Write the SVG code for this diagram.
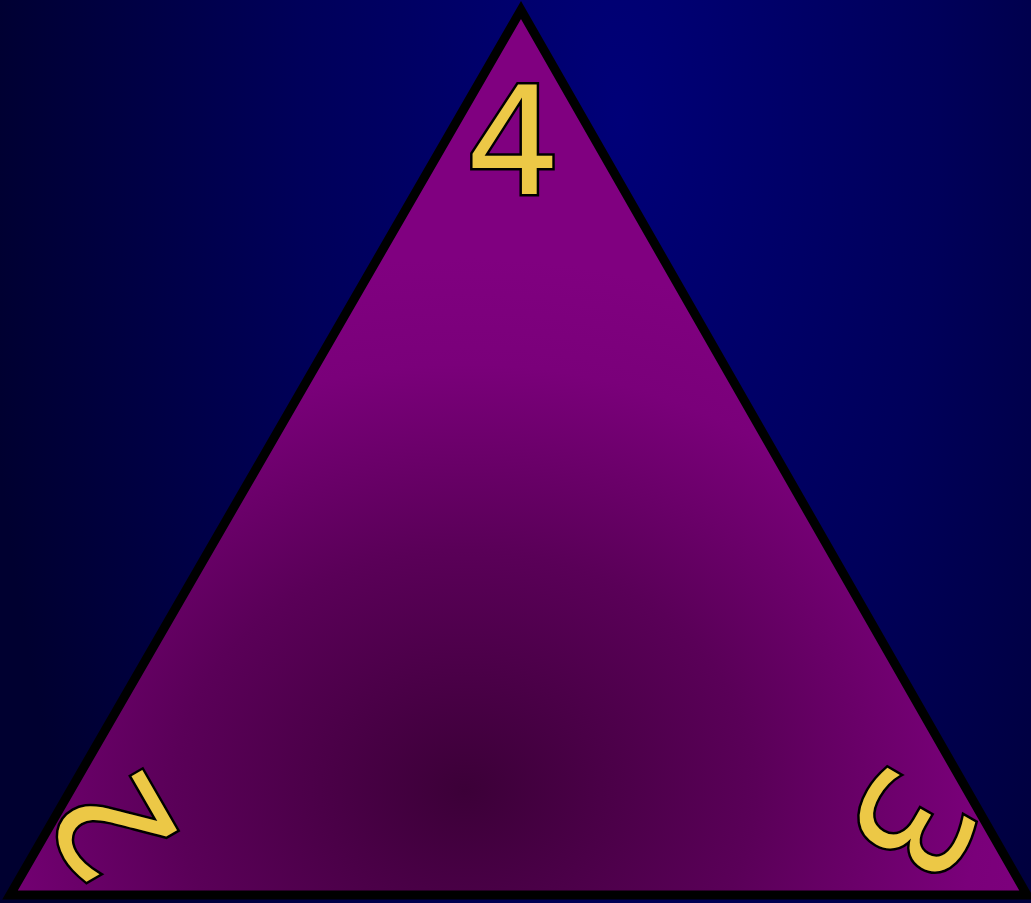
<svg xmlns="http://www.w3.org/2000/svg" width="1031" height="903" viewBox="0 0 1031 903">
  <defs>
    <radialGradient id="bg" gradientUnits="userSpaceOnUse" cx="620" cy="120" r="640" gradientTransform="translate(620 120) scale(1 2.2) translate(-620 -120)">
      <stop offset="0" stop-color="#000078"/>
      <stop offset="0.5" stop-color="#00005a"/>
      <stop offset="1" stop-color="#000030"/>
    </radialGradient>
    <radialGradient id="tri" gradientUnits="userSpaceOnUse" cx="465" cy="790" r="560" gradientTransform="translate(465 790) scale(1.15 0.95) translate(-465 -790)">
      <stop offset="0" stop-color="#3c0038"/>
      <stop offset="0.45" stop-color="#5a0058"/>
      <stop offset="0.8" stop-color="#7a007a"/>
      <stop offset="1" stop-color="#800080"/>
    </radialGradient>
    <style>
      .num { font-family: "DejaVu Sans", sans-serif; font-size: 150px; fill: #ecc846; stroke: #000; stroke-width: 5; paint-order: stroke; text-anchor: middle; }
    </style>
  </defs>
  <rect width="1031" height="903" fill="url(#bg)"/>
  <g id="face">
    <polygon points="521,10 10,895 1027,895" fill="url(#tri)" stroke="#000" stroke-width="9" stroke-linejoin="miter"/>
  </g>
  <g id="label-4" transform="translate(513 139)">
    <text class="num" x="0" y="55">4</text>
  </g>
  <g id="label-2" transform="translate(111 826) rotate(-120)">
    <text class="num" x="0" y="55">2</text>
  </g>
  <g id="label-3" transform="translate(914 825) rotate(120)">
    <text class="num" x="0" y="55">3</text>
  </g>
</svg>
